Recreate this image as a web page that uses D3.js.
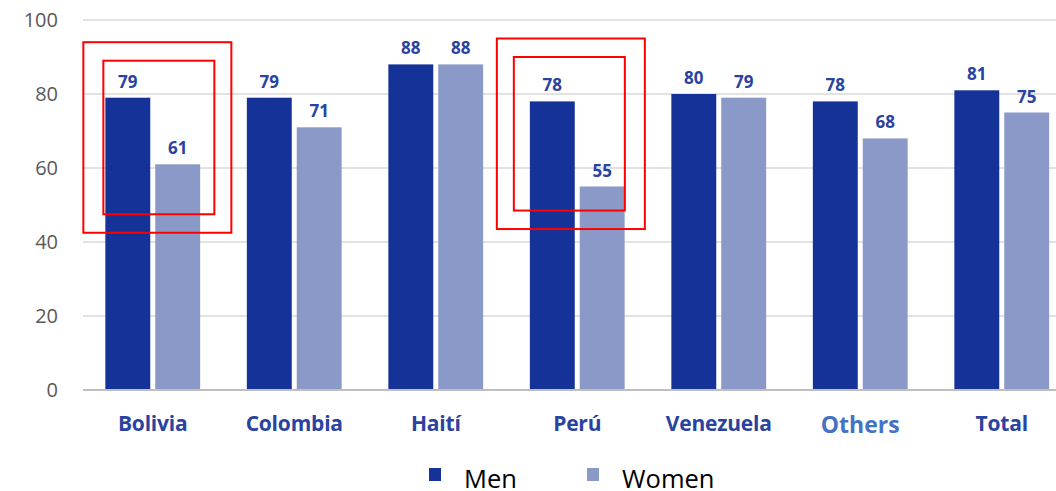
<!DOCTYPE html>
<html>
<head>
<meta charset="utf-8">
<script src="https://cdn.jsdelivr.net/npm/d3@7"></script>
<style>
  body { margin: 0; background: #fff; }
  svg { display: block; }
</style>
</head>
<body>
<div id="chart"></div>
<script>
// Data
const categories = ['Bolivia', 'Colombia', 'Haití', 'Perú', 'Venezuela', 'Others', 'Total'];
const series = ['Men', 'Women'];
const menValues = [79, 79, 88, 78, 80, 78, 81];
const womenValues = [61, 71, 88, 55, 79, 68, 75];
const yTicks = [0, 20, 40, 60, 80, 100];
// highlight boxes drawn on the original (category, value range of outer / inner box)
const highlights = [
    { cat: 'Bolivia', outer: [42.5, 94], inner: [47.5, 89] },
    { cat: 'Perú', outer: [43.5, 95], inner: [48.5, 90] }
];

const width = 1056, height = 491;
const margin = { left: 83, top: 20, bottom: 101 };

const colors = { Men: '#143297', Women: '#8a99c8' };
const font = 'Open Sans, sans-serif';

let svg = d3.select('#chart').append('svg')
    .attr('width', width)
    .attr('height', height);

// Scales (plot runs past the right edge, as in the source image)
let x = d3.scaleBand()
    .domain(categories)
    .range([margin.left - 1, margin.left - 1 + 7 * 141.5])
    .paddingInner(0.33)
    .paddingOuter(0.165);

let xs = d3.scaleBand()
    .domain(series)
    .range([0, x.bandwidth()])
    .paddingInner(0.1);

let y = d3.scaleLinear()
    .domain([0, 100])
    .range([height - margin.bottom, margin.top]);

// Gridlines
svg.append('g')
    .selectAll('line')
    .data(yTicks.filter(d => d > 0))
    .join('line')
    .attr('x1', margin.left)
    .attr('x2', width)
    .attr('y1', d => y(d))
    .attr('y2', d => y(d))
    .attr('stroke', '#d9d9d9')
    .attr('stroke-width', 1.5);

// Y axis labels
let yAxis = svg.append('g')
    .attr('transform', `translate(${margin.left - 25}, 0)`)
    .call(d3.axisLeft(y).tickValues(yTicks).tickSize(0).tickPadding(0));
yAxis.select('.domain').remove();
yAxis.selectAll('text')
    .attr('font-family', font)
    .attr('font-size', 20)
    .attr('fill', '#595959');

// Bars
let data = categories.map((c, i) => ({ cat: c, Men: menValues[i], Women: womenValues[i] }));

let groups = svg.selectAll('.grp')
    .data(data)
    .join('g')
    .classed('grp', true)
    .attr('transform', d => `translate(${x(d.cat)}, 0)`);

groups.selectAll('rect')
    .data(d => series.map(s => ({ key: s, value: d[s] })))
    .join('rect')
    .attr('x', d => xs(d.key))
    .attr('y', d => y(d.value))
    .attr('width', xs.bandwidth())
    .attr('height', d => y(0) - y(d.value))
    .attr('fill', d => colors[d.key]);

groups.selectAll('text')
    .data(d => series.map(s => ({ key: s, value: d[s] })))
    .join('text')
    .attr('x', d => xs(d.key) + xs.bandwidth() / 2)
    .attr('y', d => y(d.value) - 10)
    .attr('text-anchor', 'middle')
    .attr('font-family', font)
    .attr('font-weight', 'bold')
    .attr('font-size', 17)
    .attr('fill', '#2a43a0')
    .text(d => d.value);

// Baseline
svg.append('line')
    .attr('x1', margin.left)
    .attr('x2', width)
    .attr('y1', y(0))
    .attr('y2', y(0))
    .attr('stroke', '#bfbfbf')
    .attr('stroke-width', 2);

// X labels
svg.append('g')
    .selectAll('text')
    .data(categories)
    .join('text')
    .attr('x', d => x(d) + x.bandwidth() / 2)
    .attr('y', d => d === 'Others' ? y(0) + 43 : y(0) + 41)
    .attr('text-anchor', 'middle')
    .attr('font-family', font)
    .attr('font-weight', 'bold')
    .attr('font-size', d => d === 'Others' ? 23 : 21)
    .attr('letter-spacing', d => d === 'Others' ? 0 : -0.2)
    .attr('fill', d => d === 'Others' ? '#4472c4' : '#2a43a0')
    .text(d => d);

// Highlight boxes (offsets in px from the category band start)
let boxPad = { Bolivia: [-22, -2], 'Perú': [-33, -16] };
let hl = svg.append('g').attr('fill', 'none').attr('stroke', '#ff0000').attr('stroke-width', 2);
highlights.forEach(h => {
    let x0 = x(h.cat);
    let [po, pi] = boxPad[h.cat];
    hl.append('rect')
        .attr('x', x0 + po)
        .attr('y', y(h.outer[1]))
        .attr('width', 148)
        .attr('height', y(h.outer[0]) - y(h.outer[1]));
    hl.append('rect')
        .attr('x', x0 + pi)
        .attr('y', y(h.inner[1]))
        .attr('width', 111)
        .attr('height', y(h.inner[0]) - y(h.inner[1]));
});

// Legend
let legend = svg.append('g');
let legendX = { Men: 429, Women: 587 };
series.forEach(s => {
    legend.append('rect')
        .attr('x', legendX[s])
        .attr('y', 468)
        .attr('width', 12)
        .attr('height', 13)
        .attr('fill', colors[s]);
    legend.append('text')
        .attr('x', legendX[s] + 35)
        .attr('y', 488)
        .attr('font-family', font)
        .attr('font-size', 25.5)
        .attr('fill', '#000')
        .text(s);
});
</script>
</body>
</html>
